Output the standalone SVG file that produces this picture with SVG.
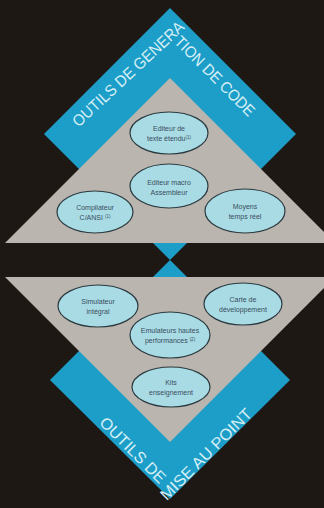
<svg xmlns="http://www.w3.org/2000/svg" width="324" height="508" viewBox="0 0 324 508">
<defs>
<style>
.blue{fill:#1c9ec9}
.grey{fill:#bab5ae}
.el{fill:#a8dbe4;stroke:#2b3a40;stroke-width:1.2}
.t{font-family:"Liberation Sans Narrow","Liberation Sans",Arial,sans-serif;font-size:7px;fill:#3a4d5e;text-anchor:middle}
.sup{font-size:4.5px}
.lab{font-family:"Liberation Sans Narrow","Liberation Sans",Arial,sans-serif;font-size:16px;fill:#d6eff5;text-anchor:middle}
</style>
</defs>
<rect width="324" height="508" fill="#1e1814"/>
<g id="frame">
<polygon class="blue" points="170,8 296,134 170,260 44,134"/>
<polygon class="blue" points="170,260 290,380 170,499 50,380"/>
<polygon class="grey" points="170,78 335,243 5,243"/>
<polygon class="grey" points="5,277 335,277 170,442"/>
</g>
<g id="labels">
<text class="lab" transform="translate(132,78) rotate(-43)" textLength="146" lengthAdjust="spacingAndGlyphs">OUTILS DE GENERA</text>
<text class="lab" transform="translate(211,80) rotate(45)" textLength="106" lengthAdjust="spacingAndGlyphs">TION DE CODE</text>
<text class="lab" transform="translate(129,454) rotate(45)" textLength="86" lengthAdjust="spacingAndGlyphs">OUTILS DE</text>
<text class="lab" transform="translate(210,458) rotate(-45)" textLength="122" lengthAdjust="spacingAndGlyphs">MISE AU POINT</text>
</g>
<g id="connectors"/>
<g id="editeur-texte">
<ellipse class="el" cx="169" cy="133" rx="39" ry="21"/>
<text class="t" x="169" y="131">Editeur de</text>
<text class="t" x="169" y="141">texte étendu<tspan class="sup" dy="-2.5">(1)</tspan></text>
</g>
<g id="editeur-macro">
<ellipse class="el" cx="169" cy="186" rx="39" ry="22"/>
<text class="t" x="169" y="185">Editeur macro</text>
<text class="t" x="169" y="195">Assembleur</text>
</g>
<g id="compilateur">
<ellipse class="el" cx="95" cy="212" rx="38" ry="21"/>
<text class="t" x="95" y="210">Compilateur</text>
<text class="t" x="95" y="220">C/ANSI <tspan class="sup" dy="-2.5">(1)</tspan></text>
</g>
<g id="moyens">
<ellipse class="el" cx="245" cy="211" rx="40" ry="22"/>
<text class="t" x="245" y="209">Moyens</text>
<text class="t" x="245" y="219">temps réel</text>
</g>
<g id="simulateur">
<ellipse class="el" cx="98" cy="306" rx="40" ry="21"/>
<text class="t" x="98" y="304">Simulateur</text>
<text class="t" x="98" y="314">intégral</text>
</g>
<g id="carte">
<ellipse class="el" cx="243" cy="304" rx="39" ry="21"/>
<text class="t" x="243" y="302">Carte de</text>
<text class="t" x="243" y="312">développement</text>
</g>
<g id="emulateurs">
<ellipse class="el" cx="170" cy="335" rx="40" ry="23"/>
<text class="t" x="170" y="333">Emulateurs hautes</text>
<text class="t" x="170" y="343">performances <tspan class="sup" dy="-2.5">(2)</tspan></text>
</g>
<g id="kits">
<ellipse class="el" cx="171" cy="387" rx="39" ry="20"/>
<text class="t" x="171" y="385">Kits</text>
<text class="t" x="171" y="395">enseignement</text>
</g>
</svg>
